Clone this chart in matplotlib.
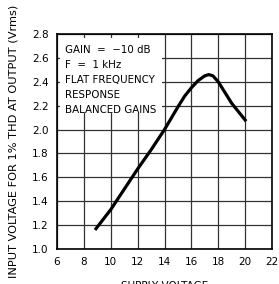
import matplotlib
matplotlib.use('Agg')
import matplotlib.pyplot as plt
from matplotlib.patches import Rectangle

# supply voltage (V) vs input voltage for 1% THD at output (Vrms)
supplyV = [8.9, 10, 11, 12, 13, 14, 15, 15.5, 16, 16.5, 17, 17.3, 17.6, 18, 18.5, 19, 19.5, 20]
inputV = [1.17, 1.33, 1.50, 1.67, 1.83, 2.00, 2.19, 2.28, 2.35, 2.41, 2.45, 2.46, 2.45, 2.40, 2.31, 2.22, 2.15, 2.08]

xTicks = [6, 8, 10, 12, 14, 16, 18, 20, 22]
yTicks = [1.0, 1.2, 1.4, 1.6, 1.8, 2.0, 2.2, 2.4, 2.6, 2.8]
notes = ['GAIN  =  \u221210 dB', 'F  =  1 kHz', 'FLAT FREQUENCY', 'RESPONSE', 'BALANCED GAINS']

plt.rcParams['font.family'] = 'DejaVu Sans'
fig = plt.figure(figsize=(2.79, 2.84), dpi=100)
ax = fig.add_axes([57/279, 35/284, 215/279, 215/284])

ax.set_xlim(6, 22)
ax.set_ylim(1.0, 2.8)
ax.set_xticks(xTicks)
ax.set_yticks(yTicks)
ax.set_yticklabels(['%.1f' % v for v in yTicks])
ax.tick_params(length=0, labelsize=7.5, pad=6)
ax.grid(True, color='#333333', linewidth=0.9)
ax.set_axisbelow(True)
for s in ax.spines.values():
  s.set_linewidth(1.2)

# white panel behind the note text hides the grid there
ax.add_patch(Rectangle((6.2, 2.14), 7.6, 0.63, facecolor='white', edgecolor='none', zorder=2))
for i, line in enumerate(notes):
  ax.text(6.6, 2.665 - i * 0.125, line, fontsize=7.4, va='center', ha='left', zorder=3)

ax.plot(supplyV, inputV, color='black', linewidth=2.3, zorder=4)

ax.set_xlabel('SUPPLY VOLTAGE', fontsize=7.5, labelpad=10)
ax.set_ylabel('INPUT VOLTAGE FOR 1% THD AT OUTPUT (Vrms)', fontsize=8.2, labelpad=10)

fig.savefig('out.png', dpi=100)
